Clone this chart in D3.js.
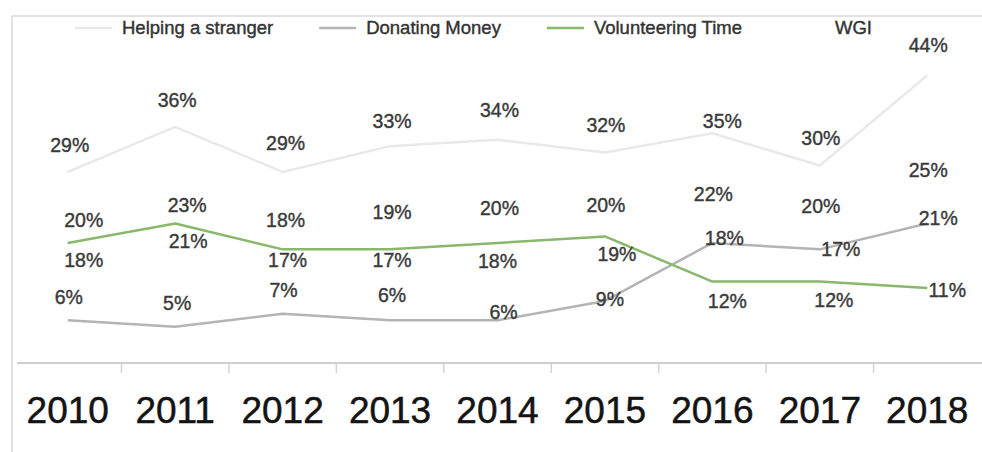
<!DOCTYPE html>
<html>
<head>
<meta charset="utf-8">
<script src="https://cdn.jsdelivr.net/npm/d3@7"></script>
<style>
  html, body { margin: 0; padding: 0; background: #ffffff; }
  svg { display: block; }
  text { font-family: "Liberation Sans", Arial, Helvetica, sans-serif; }
</style>
</head>
<body>
<svg id="chart" width="982" height="452"></svg>
<script>
// Categories and series values
const years = ["2010", "2011", "2012", "2013", "2014", "2015", "2016", "2017", "2018"];
const helpingStranger = [29, 36, 29, 33, 34, 32, 35, 30, 44];
const donatingMoney = [6, 5, 7, 6, 6, 9, 18, 17, 21];
const volunteeringTime = [18, 21, 17, 17, 18, 19, 12, 12, 11];
const wgi = [20, 23, 18, 19, 20, 20, 22, 20, 25];
const seriesNames = ["Helping a stranger", "Donating Money", "Volunteering Time", "WGI"];

// Label nudges (pixels) so value labels sit clear of the lines
const labelNudges = {
  "Helping a stranger": { dx: [2, 2, 3, 2, 2, 1, 10, 1, 1], dy: [-27, -27, -29, -25, -30, -28, -12, -28, -30] },
  "Donating Money": { dx: [1, 2, 1, 2, 6, 5, 12, 21, 11], dy: [-23, -24, -24, -25, -8, -2, -5, 0, -6] },
  "Volunteering Time": { dx: [16, 13, 5, 2, 0, 12, 15, 14, 20], dy: [17, 17, 11, 11, 18, 18, 19, 18, 2] },
  "WGI": { dx: [16, 12, 3, 2, 2, 1, 1, 1, 1], dy: [-10, -6, -23, -24, -22, -25, -23, -24, -28] }
};

const colors = {
  "Helping a stranger": "#e9e9e9",
  "Donating Money": "#b4b4b4",
  "Volunteering Time": "#88b86a",
  "WGI": "#ffffff"
};

const seriesValues = {
  "Helping a stranger": helpingStranger,
  "Donating Money": donatingMoney,
  "Volunteering Time": volunteeringTime,
  "WGI": wgi
};

const svg = d3.select("#chart");

const xBand = d3.scaleBand().domain(years).range([14, 981]);
const x = d3.scalePoint().domain(years).range([14, 981]).padding(0.5);
const y = d3.scaleLinear().domain([0, 50]).range([359, 36.5]);

// Outer frame (top and left edges)
svg.append("line").attr("x1", 12).attr("x2", 982).attr("y1", 16).attr("y2", 16)
  .attr("stroke", "#e2e2e2").attr("stroke-width", 2);
svg.append("line").attr("x1", 12).attr("x2", 12).attr("y1", 16).attr("y2", 452)
  .attr("stroke", "#e2e2e2").attr("stroke-width", 2);

// Category axis
const axisY = 363;
svg.append("line").attr("x1", 17).attr("x2", 982).attr("y1", axisY).attr("y2", axisY)
  .attr("stroke", "#cfcfcf").attr("stroke-width", 2);
const boundaries = years.slice(1).map(d => xBand(d));
svg.selectAll("line.tick").data(boundaries).enter().append("line")
  .attr("class", "tick")
  .attr("x1", d => d).attr("x2", d => d)
  .attr("y1", axisY).attr("y2", axisY + 10)
  .attr("stroke", "#d4d4d4").attr("stroke-width", 1.5);
svg.selectAll("text.year").data(years).enter().append("text")
  .attr("class", "year")
  .attr("x", d => x(d))
  .attr("y", 423)
  .attr("text-anchor", "middle")
  .attr("font-size", 37)
  .attr("fill", "#141414")
  .attr("stroke", "#141414")
  .attr("stroke-width", 0.5)
  .text(d => d);

// Series lines
const line = d3.line().x((d, i) => x(years[i])).y(d => y(d));
seriesNames.forEach(name => {
  svg.append("path")
    .datum(seriesValues[name])
    .attr("d", line)
    .attr("fill", "none")
    .attr("stroke", colors[name])
    .attr("stroke-width", 2.5)
    .attr("stroke-linejoin", "round");
});

// Value labels
seriesNames.forEach(name => {
  const nudge = labelNudges[name];
  svg.selectAll(null).data(seriesValues[name]).enter().append("text")
    .attr("x", (d, i) => x(years[i]) + nudge.dx[i])
    .attr("y", (d, i) => y(d) + nudge.dy[i])
    .attr("dy", "0.36em")
    .attr("text-anchor", "middle")
    .attr("font-size", 19.5)
    .attr("fill", "#3a3a3a")
    .attr("stroke", "#3a3a3a")
    .attr("stroke-width", 0.4)
    .text(d => d + "%");
});

// Legend
const legend = svg.append("g");
let lx = 75;
seriesNames.forEach(name => {
  legend.append("line")
    .attr("x1", lx).attr("x2", lx + 37)
    .attr("y1", 28).attr("y2", 28)
    .attr("stroke", colors[name])
    .attr("stroke-width", 2.5);
  const t = legend.append("text")
    .attr("x", lx + 47)
    .attr("y", 34)
    .attr("font-size", 18.5)
    .attr("fill", "#333333")
    .attr("stroke", "#333333")
    .attr("stroke-width", 0.4)
    .text(name);
  lx = lx + 47 + t.node().getComputedTextLength() + 46;
});
</script>
</body>
</html>
